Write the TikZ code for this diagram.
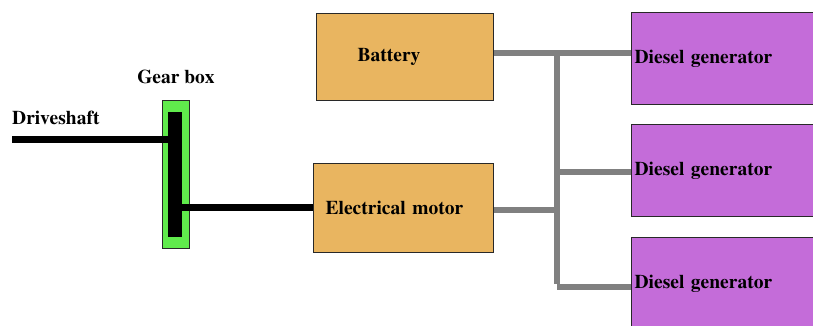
\documentclass[tikz,border=0pt]{standalone}
\usepackage[T1]{fontenc}
\renewcommand{\rmdefault}{ptm}
\definecolor{boxorange}{RGB}{233,181,96}
\definecolor{genpurple}{RGB}{196,108,217}
\definecolor{gbgreen}{RGB}{96,235,76}
\definecolor{busgray}{RGB}{128,128,128}
\definecolor{edge}{RGB}{40,40,40}
\begin{document}
\begin{tikzpicture}[x=1pt,y=-1pt,
  txt/.style={font=\rmfamily\bfseries\fontsize{19.5}{22}\selectfont},
  lbl/.style={txt, inner sep=0pt},
  orangebox/.style={txt, draw=edge, line width=1.3pt, fill=boxorange, align=left, inner ysep=0pt, anchor=north west},
  genbox/.style={txt, draw=edge, line width=1.3pt, fill=genpurple, align=left, text width=194pt, inner xsep=3pt, inner ysep=0pt, minimum height=92pt, anchor=north west},
  shaftline/.style={line width=7pt, black},
  busline/.style={line width=6pt, busgray}
]
\useasboundingbox (0,0) rectangle (813,325);
\clip (0,0) rectangle (813,325);

% gearbox
\node[draw=edge, line width=0.8pt, fill=gbgreen, minimum width=27pt, minimum height=148pt, inner sep=0pt, anchor=north west] (gearbox) at (162,100) {};
\node[fill=black, minimum width=14pt, minimum height=125pt, inner sep=0pt, anchor=north west] (bar) at (168,112) {};
\node[lbl] (gblabel) at (176,77) {Gear box};
\node[lbl, anchor=west] (dslabel) at (12,118) {Driveshaft};

% boxes
\node[orangebox, text width=95pt, inner xsep=41pt, minimum height=87pt] (battery) at (316,13) {Battery};
\node[orangebox, text width=156pt, inner xsep=12pt, minimum height=89pt] (motor) at (313,163) {Electrical motor};

\node[genbox] (gen1) at (631,12) {Diesel generator};
\node[genbox] (gen2) at (631,124) {Diesel generator};
\node[genbox] (gen3) at (631,237) {Diesel generator};

% shafts
\coordinate (dsend) at (12,139);
\draw[shaftline] (dsend) -- (dsend -| bar.west);
\coordinate (mline) at (182,207);
\draw[shaftline] (mline -| bar.east) -- (mline -| motor.west);

% bus
\coordinate (b1) at (557,53);
\coordinate (b2) at (557,172);
\coordinate (bm) at (557,210);
\coordinate (b3) at (557,287);
\draw[busline] (b1 -| battery.east) -- (b1 -| gen1.west);
\draw[busline] (b2) -- (b2 -| gen2.west);
\draw[busline] (bm -| motor.east) -- (bm);
\draw[busline] (b3) -- (b3 -| gen3.west);
\draw[busline] ([yshift=-3pt]b1) -- ([yshift=3pt]b3);
\end{tikzpicture}
\end{document}
